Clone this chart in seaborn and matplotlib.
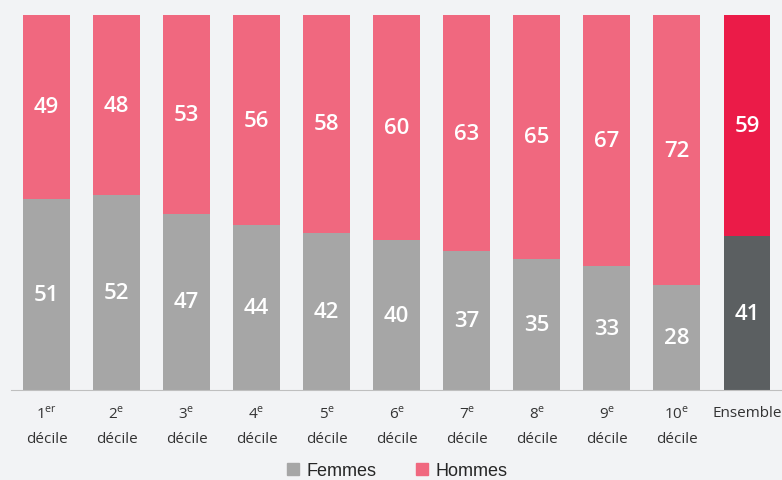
import matplotlib
matplotlib.use("Agg")
import matplotlib.pyplot as plt
from matplotlib.patches import Patch
import seaborn as sns

# Data
categories = ["d1", "d2", "d3", "d4", "d5", "d6", "d7", "d8", "d9", "d10", "Ensemble"]
tick_labels = [r"1$^{\mathrm{er}}$" + "\ndécile"] + \
    [f"{i}" + r"$^{\mathrm{e}}$" + "\ndécile" for i in range(2, 11)] + ["Ensemble\n"]
femmes = [51, 52, 47, 44, 42, 40, 37, 35, 33, 28, 41]
hommes = [49, 48, 53, 56, 58, 60, 63, 65, 67, 72, 59]

bg = "#f2f3f5"
pink, gray = "#f0687f", "#a6a6a6"
red_all, gray_all = "#eb1b48", "#5b5f61"

sns.set_style("white")
plt.rcParams["font.family"] = ["Open Sans", "DejaVu Sans"]
plt.rcParams["mathtext.fontset"] = "custom"
plt.rcParams["mathtext.rm"] = "Open Sans"

fig = plt.figure(figsize=(7.82, 4.81), dpi=100, facecolor=bg)
ax = fig.add_axes([0.0147, 0.187, 0.9853, 0.7797])
ax.set_facecolor(bg)

totals = [f + h for f, h in zip(femmes, hommes)]
pal_top = [pink] * 10 + [red_all]
pal_bot = [gray] * 10 + [gray_all]
sns.barplot(x=categories, y=totals, hue=categories, palette=pal_top, legend=False,
            width=0.67, saturation=1, ax=ax, linewidth=0)
sns.barplot(x=categories, y=femmes, hue=categories, palette=pal_bot, legend=False,
            width=0.67, saturation=1, ax=ax, linewidth=0)

# value labels
for i, (f, h) in enumerate(zip(femmes, hommes)):
    ax.text(i, f / 2, str(f), ha="center", va="center", color="white",
            fontsize=16, fontweight="semibold")
    ax.text(i, f + h / 2, str(h), ha="center", va="center", color="white",
            fontsize=16, fontweight="semibold")

ax.set_xlim(-0.5, 10.5)
ax.set_ylim(0, 100)
ax.set_yticks([])
ax.set_xticks(range(len(categories)))
ax.set_xticklabels(tick_labels, fontsize=11, color="#333333", linespacing=1.8)
ax.tick_params(axis="x", which="major", length=0, pad=11)
ax.set_xticks([i - 0.5 for i in range(len(categories) + 1)], minor=True)
ax.tick_params(axis="x", which="minor", length=8, color="#bfbfbf", width=1)
ax.set_xlabel("")
ax.set_ylabel("")
for s in ["top", "right", "left"]:
    ax.spines[s].set_visible(False)
ax.spines["bottom"].set_color("#bfbfbf")

handles = [Patch(color=gray, label="Femmes"), Patch(color=pink, label="Hommes")]
fig.legend(handles=handles, loc="center", bbox_to_anchor=(0.508, 0.02), ncol=2,
           frameon=False, prop={"family": "Liberation Sans", "size": 13},
           handlelength=0.65, handleheight=0.65, handletextpad=0.4,
           columnspacing=2.2, borderpad=0, borderaxespad=0)

fig.savefig("out.png", dpi=100, facecolor=bg)
